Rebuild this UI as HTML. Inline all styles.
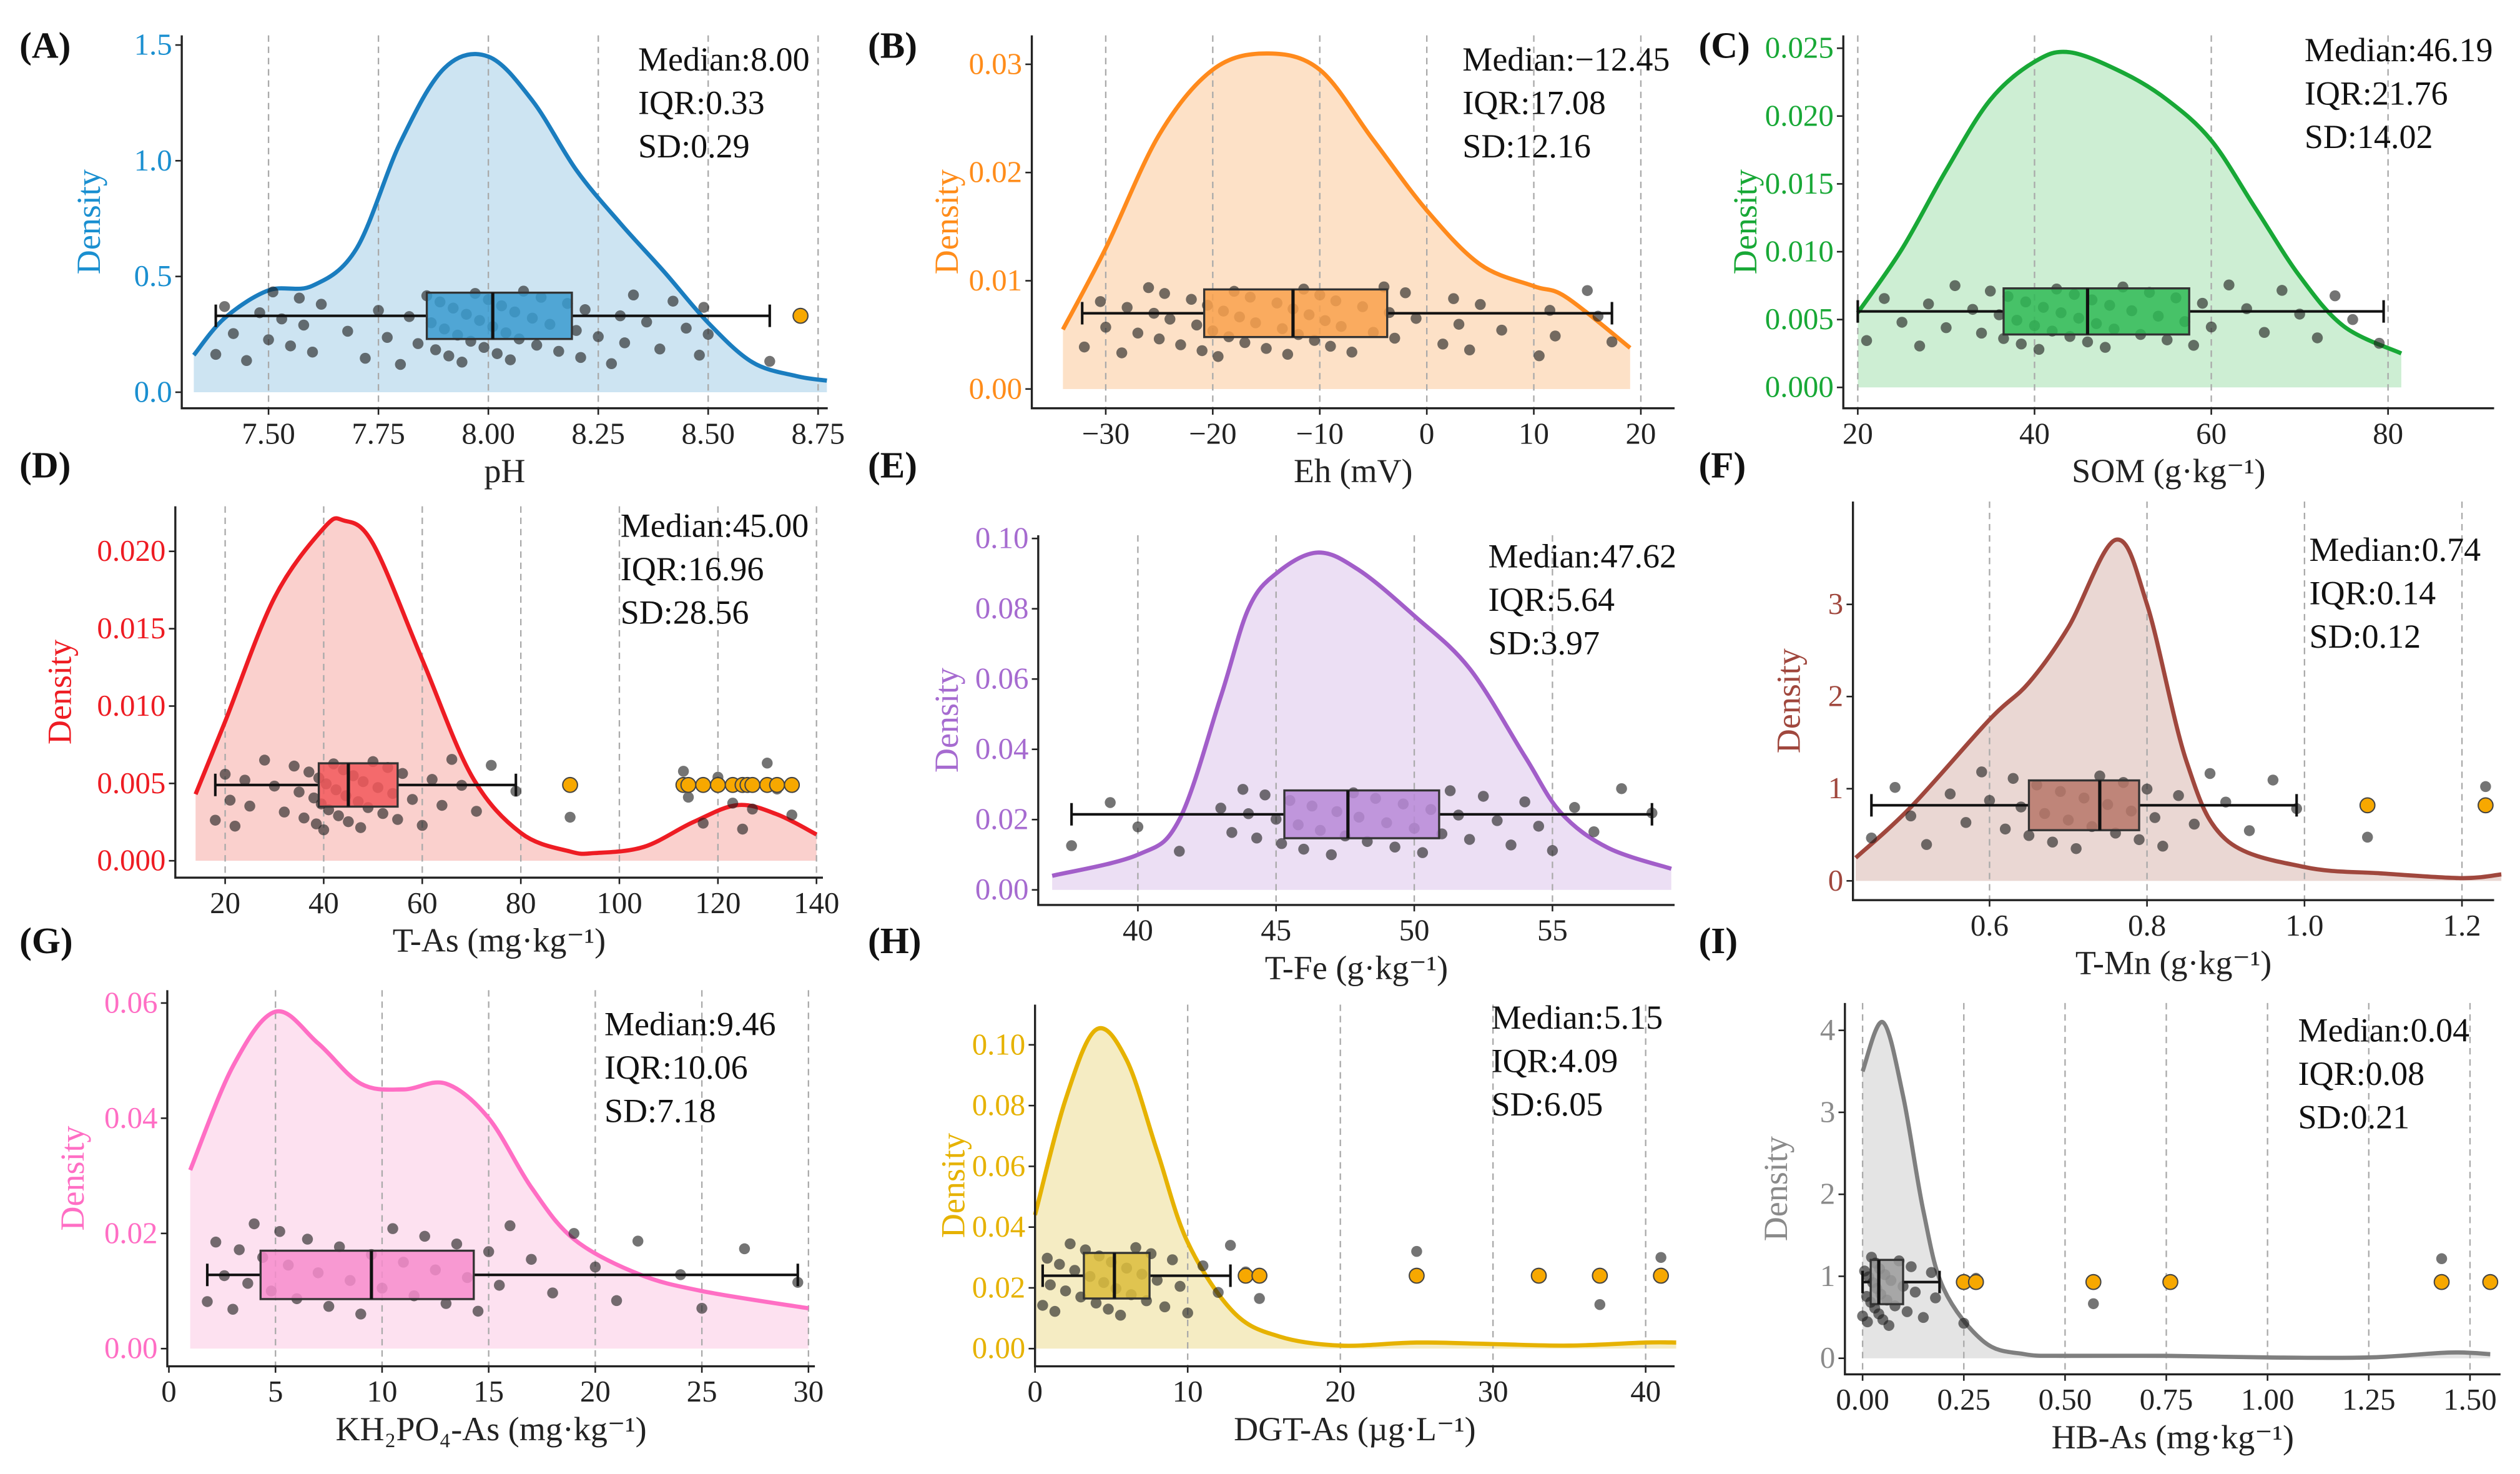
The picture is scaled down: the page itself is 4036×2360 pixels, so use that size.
<!DOCTYPE html>
<html><head><meta charset="utf-8">
<style>
html,body{margin:0;padding:0;background:#fff}
svg{display:block}
</style></head>
<body>
<svg id="fig" width="4036" height="2360" viewBox="0 0 1568 917" font-family="'Liberation Serif', 'Times New Roman', serif" xmlns="http://www.w3.org/2000/svg"></svg>
<script>
// ---------- data arrays ----------
const aCurveX=[7.33,7.40,7.50,7.60,7.70,7.80,7.90,8.00,8.10,8.20,8.30,8.40,8.50,8.60,8.70,8.77];
const aCurveY=[0.16,0.32,0.44,0.46,0.62,1.08,1.40,1.45,1.26,0.96,0.73,0.52,0.30,0.13,0.07,0.05];
const aBox=[7.38,7.86,8.01,8.19,8.64];
const aOut=[8.71];
const aPts=[7.38,7.40,7.42,7.45,7.48,7.50,7.51,7.53,7.55,7.57,7.58,7.60,7.62,7.68,7.72,7.75,7.77,7.80,7.82,7.84,7.86,7.87,7.88,7.89,7.90,7.91,7.92,7.93,7.94,7.95,7.96,7.97,7.98,7.99,8.00,8.01,8.02,8.03,8.04,8.05,8.06,8.07,8.08,8.10,8.11,8.12,8.14,8.16,8.18,8.20,8.21,8.22,8.25,8.28,8.30,8.31,8.33,8.36,8.39,8.42,8.45,8.48,8.49,8.50,8.64,8.71];

const bCurveX=[-34,-30,-25,-20,-15,-10,-5,0,5,10,13,19];
const bCurveY=[0.0055,0.013,0.0235,0.0295,0.031,0.0295,0.023,0.0165,0.0115,0.0095,0.0085,0.0038];
const bBox=[-32.2,-20.8,-12.5,-3.7,17.3];
const bOut=[];
const bPts=[-32,-30.5,-30,-28.5,-28,-27,-26,-25.5,-25,-24.5,-24,-23,-22,-21.5,-21,-20.5,-20,-19.5,-19,-18.5,-18,-17.5,-17,-16.5,-16,-15,-14,-13.5,-13,-12.5,-12,-11.5,-11,-10.5,-10,-9.5,-9,-8.5,-8,-7,-6,-5,-4,-3.5,-3,-2,-1,1.5,2.5,3,4,5,7,10.5,11.5,12,15,16,17.3];

const cCurveX=[20,25,30,35,40,44,50,55,60,65,70,75,81.5];
const cCurveY=[0.0055,0.0102,0.0160,0.0212,0.0240,0.0247,0.0232,0.0212,0.0182,0.0132,0.0082,0.0045,0.0025];
const cBox=[20,36.5,46,57.5,79.5];
const cOut=[];
const cPts=[21,23,25,27,28,30,31,33,34,35,36,36.5,37,38,38.5,39,40,40.5,41,42,42.5,43,44,44.5,45,46,46.5,47,48,48.5,49,50,51,52,53,54,55,56,57,58,59,60,62,64,66,68,70,72,74,76,79];

const dCurveX=[14,20,30,40,44,50,60,70,80,90,95,105,115,124,132,140];
const dCurveY=[0.0043,0.009,0.017,0.0215,0.022,0.0205,0.013,0.0055,0.0018,0.0006,0.0005,0.0009,0.0025,0.0036,0.003,0.0017];
const dBox=[18,39,45,55,79];
const dOut=[90,113,114,117,120,123,125,126,127,130,132,135];
const dPts=[18,20,21,22,24,25,28,30,32,34,35,36,37,38,38.5,39,39.5,40,40.5,41,42,42.5,43,44,44.5,45,46,47,47.5,48,49,50,51,52,53,54,55,56,58,60,62,64,66,68,71,74,79,90,113,114,117,120,123,125,126,127,130,132,135];

const eCurveX=[36.9,40,41.5,43,44,45,46.5,48,50,52,54,55.3,57,59.3];
const eCurveY=[0.004,0.010,0.020,0.055,0.080,0.090,0.096,0.091,0.078,0.063,0.038,0.022,0.012,0.006];
const eBox=[37.6,45.3,47.6,50.9,58.6];
const eOut=[];
const ePts=[37.6,39,40,41.5,43,43.4,43.8,44,44.3,44.6,45,45.2,45.5,45.8,46,46.3,46.6,47,47.2,47.5,47.8,48,48.3,48.6,49,49.3,49.6,50,50.3,50.6,51,51.3,51.6,52,52.5,53,53.5,54,54.5,55,55.8,56.5,57.5,58.6];

const fCurveX=[0.43,0.50,0.60,0.65,0.70,0.76,0.80,0.85,0.90,1.00,1.10,1.20,1.25];
const fCurveY=[0.25,0.80,1.75,2.15,2.75,3.70,3.00,1.30,0.45,0.15,0.08,0.03,0.07];
const fBox=[0.45,0.65,0.74,0.79,0.99];
const fOut=[1.08,1.23];
const fPts=[0.45,0.48,0.50,0.52,0.55,0.57,0.59,0.60,0.62,0.63,0.64,0.65,0.66,0.67,0.68,0.69,0.70,0.71,0.72,0.73,0.74,0.75,0.76,0.77,0.78,0.79,0.80,0.81,0.82,0.84,0.86,0.88,0.90,0.93,0.96,0.99,1.08,1.23];

const gCurveX=[1,3,5,7,9,11,13,15,17,19,22,25,30];
const gCurveY=[0.031,0.049,0.0585,0.053,0.046,0.045,0.046,0.040,0.028,0.019,0.013,0.010,0.007];
const gBox=[1.8,4.3,9.5,14.3,29.5];
const gOut=[];
const gPts=[1.8,2.2,2.6,3,3.3,3.7,4,4.4,4.8,5.2,5.6,6,6.5,7,7.5,8,8.5,9,9.5,10,10.5,11,11.5,12,12.5,13,13.5,14,14.5,15,15.5,16,17,18,19,20,21,22,24,25,27,29.5];

const hCurveX=[0,2,4,6,8,10,13,16,20,25,30,35,40,42];
const hCurveY=[0.044,0.082,0.105,0.095,0.065,0.035,0.012,0.004,0.001,0.002,0.0015,0.001,0.002,0.002];
const hBox=[0.5,3.2,5.2,7.5,12.8];
const hOut=[13.8,14.7,25,33,37,41];
const hPts=[0.5,0.8,1,1.3,1.6,2,2.3,2.6,3,3.3,3.6,4,4.2,4.5,4.8,5,5.3,5.6,6,6.3,6.6,7,7.3,7.6,8,8.5,9,9.5,10,11,12,12.8,13.8,14.7,25,33,37,41];

const iCurveX=[0,0.05,0.10,0.15,0.20,0.30,0.40,0.50,0.75,1.00,1.25,1.45,1.55];
const iCurveY=[3.5,4.1,3.2,1.8,0.85,0.20,0.05,0.03,0.03,0.01,0.01,0.07,0.05];
const iBox=[0.0,0.02,0.04,0.10,0.19];
const iOut=[0.25,0.28,0.57,0.76,1.43,1.55];
const iPts=[0.0,0.005,0.01,0.012,0.015,0.02,0.022,0.025,0.03,0.032,0.035,0.04,0.042,0.045,0.05,0.055,0.06,0.065,0.07,0.08,0.09,0.10,0.11,0.12,0.13,0.15,0.17,0.18,0.25,0.28,0.57,1.43,1.55];

// ticks
const aXT=["7.50","7.75","8.00","8.25","8.50","8.75"], aYT=["0.0","0.5","1.0","1.5"];
const bXT=["\u221230","\u221220","\u221210","0","10","20"], bYT=["0.00","0.01","0.02","0.03"];
const cXT=["20","40","60","80"], cYT=["0.000","0.005","0.010","0.015","0.020","0.025"];
const dXT=["20","40","60","80","100","120","140"], dYT=["0.000","0.005","0.010","0.015","0.020"];
const eXT=["40","45","50","55"], eYT=["0.00","0.02","0.04","0.06","0.08","0.10"];
const fXT=["0.6","0.8","1.0","1.2"], fYT=["0","1","2","3"];
const gXT=["0","5","10","15","20","25","30"], gYT=["0.00","0.02","0.04","0.06"];
const hXT=["0","10","20","30","40"], hYT=["0.00","0.02","0.04","0.06","0.08","0.10"];
const iXT=["0.00","0.25","0.50","0.75","1.00","1.25","1.50"], iYT=["0","1","2","3","4"];

const aStats=["Median:8.00","IQR:0.33","SD:0.29"];
const bStats=["Median:\u221212.45","IQR:17.08","SD:12.16"];
const cStats=["Median:46.19","IQR:21.76","SD:14.02"];
const dStats=["Median:45.00","IQR:16.96","SD:28.56"];
const eStats=["Median:47.62","IQR:5.64","SD:3.97"];
const fStats=["Median:0.74","IQR:0.14","SD:0.12"];
const gStats=["Median:9.46","IQR:10.06","SD:7.18"];
const hStats=["Median:5.15","IQR:4.09","SD:6.05"];
const iStats=["Median:0.04","IQR:0.08","SD:0.21"];

// ---------- layout (pixels) ----------
const panels=[
 {id:"a",lab:"(A)",lx:12,ly:36,L:113,R:515,T:22,B:254,x0:7.5,px0:167,x1:8.75,px1:509,y0:0,py0:244,y1:1.5,py1:28,
  cx:aCurveX,cy:aCurveY,box:aBox,out:aOut,pts:aPts,xt:aXT,yt:aYT,st:aStats,sx:397,sy:44,bc:0.33,bh:0.10,jl:0.12,jh:0.44,
  line:"#1a7dbf",fill:"#cde4f2",boxf:"#3a9bd0",tcol:"#1a8fd0",xl:"pH",ytx:62},
 {id:"b",lab:"(B)",lx:540,ly:36,L:642,R:1042,T:22,B:254,x0:-30,px0:688,x1:20,px1:1021,y0:0,py0:242,y1:0.03,py1:40,
  cx:bCurveX,cy:bCurveY,box:bBox,out:bOut,pts:bPts,xt:bXT,yt:bYT,st:bStats,sx:910,sy:44,bc:0.007,bh:0.0022,jl:0.003,jh:0.0095,
  line:"#ff8a1c",fill:"#fde1c7",boxf:"#f9a14c",tcol:"#ff8c1a",xl:"Eh (mV)",ytx:596},
 {id:"c",lab:"(C)",lx:1057,ly:36,L:1147,R:1552,T:22,B:254,x0:20,px0:1156,x1:80,px1:1486,y0:0,py0:241,y1:0.025,py1:30,
  cx:cCurveX,cy:cCurveY,box:cBox,out:cOut,pts:cPts,xt:cXT,yt:cYT,st:cStats,sx:1434,sy:38,bc:0.0056,bh:0.0017,jl:0.0028,jh:0.0076,
  line:"#18a836",fill:"#cdeed3",boxf:"#2fba55",tcol:"#18a836",xl:"SOM (g\u00b7kg\u207b\u00b9)",ytx:1093},
 {id:"d",lab:"(D)",lx:12,ly:297,L:109,R:512,T:315,B:546,x0:20,px0:140,x1:140,px1:508,y0:0,py0:535.5,y1:0.02,py1:343,
  cx:dCurveX,cy:dCurveY,box:dBox,out:dOut,pts:dPts,xt:dXT,yt:dYT,st:dStats,sx:386,sy:334,bc:0.0049,bh:0.0014,jl:0.002,jh:0.0066,
  line:"#ee1c23",fill:"#fad0cd",boxf:"#f2585b",tcol:"#ee1c23",xl:"T-As (mg\u00b7kg\u207b\u00b9)",ytx:44},
 {id:"e",lab:"(E)",lx:540,ly:297,L:646,R:1042,T:333,B:563,x0:40,px0:708,x1:55,px1:966,y0:0,py0:553.6,y1:0.1,py1:335,
  cx:eCurveX,cy:eCurveY,box:eBox,out:eOut,pts:ePts,xt:eXT,yt:eYT,st:eStats,sx:926,sy:353,bc:0.0215,bh:0.0068,jl:0.01,jh:0.029,
  line:"#a25ec9",fill:"#ecdff4",boxf:"#b98ad7",tcol:"#a66bd0",xl:"T-Fe (g\u00b7kg\u207b\u00b9)",ytx:596},
 {id:"f",lab:"(F)",lx:1057,ly:297,L:1153,R:1552,T:312,B:560,x0:0.6,px0:1238,x1:1.2,px1:1532,y0:0,py0:548,y1:3,py1:376,
  cx:fCurveX,cy:fCurveY,box:fBox,out:fOut,pts:fPts,xt:fXT,yt:fYT,st:fStats,sx:1437,sy:349,bc:0.82,bh:0.27,jl:0.35,jh:1.2,
  line:"#a0473d",fill:"#ead7d3",boxf:"#b77769",tcol:"#a0473d",xl:"T-Mn (g\u00b7kg\u207b\u00b9)",ytx:1120},
 {id:"g",lab:"(G)",lx:12,ly:593,L:104,R:507,T:616,B:850,x0:0,px0:105,x1:30,px1:503,y0:0,py0:839,y1:0.06,py1:624,
  cx:gCurveX,cy:gCurveY,box:gBox,out:gOut,pts:gPts,xt:gXT,yt:gYT,st:gStats,sx:376,sy:644,bc:0.0128,bh:0.0042,jl:0.006,jh:0.022,
  line:"#ff6ec4",fill:"#fde1f0",boxf:"#f78ccc",tcol:"#ff6ec4",xl:"KH\u2082PO\u2084-As (mg\u00b7kg\u207b\u00b9)",ytx:52},
 {id:"h",lab:"(H)",lx:540,ly:593,L:644,R:1042,T:625,B:850,x0:0,px0:644,x1:40,px1:1024,y0:0,py0:839,y1:0.1,py1:650,
  cx:hCurveX,cy:hCurveY,box:hBox,out:hOut,pts:hPts,xt:hXT,yt:hYT,st:hStats,sx:928,sy:640,bc:0.024,bh:0.0075,jl:0.011,jh:0.035,
  line:"#e6b200",fill:"#f5ecc3",boxf:"#dcbd3c",tcol:"#e6b200",xl:"DGT-As (\u00b5g\u00b7L\u207b\u00b9)",ytx:600},
 {id:"i",lab:"(I)",lx:1057,ly:593,L:1148,R:1556,T:624,B:855,x0:0,px0:1159,x1:1.5,px1:1537,y0:0,py0:845,y1:4,py1:641,
  cx:iCurveX,cy:iCurveY,box:iBox,out:iOut,pts:iPts,xt:iXT,yt:iYT,st:iStats,sx:1430,sy:648,bc:0.93,bh:0.27,jl:0.4,jh:1.25,
  line:"#7f7f7f",fill:"#e4e4e4",boxf:"#9c9c9c",tcol:"#8a8a8a",xl:"HB-As (mg\u00b7kg\u207b\u00b9)",ytx:1112}
];

const NS="http://www.w3.org/2000/svg";
const svg=document.getElementById('fig');
function mk(tag,attrs,parent){const e=document.createElementNS(NS,tag);for(const k in attrs)e.setAttribute(k,attrs[k]);(parent||svg).appendChild(e);return e;}
function smooth(p){let d="M"+p[0][0]+","+p[0][1];for(let i=0;i<p.length-1;i++){const p0=p[i-1]||p[i],p1=p[i],p2=p[i+1],p3=p[i+2]||p2;
 const c1x=p1[0]+(p2[0]-p0[0])/6,c1y=p1[1]+(p2[1]-p0[1])/6,c2x=p2[0]-(p3[0]-p1[0])/6,c2y=p2[1]-(p3[1]-p1[1])/6;
 d+=" C"+c1x+","+c1y+" "+c2x+","+c2y+" "+p2[0]+","+p2[1];}return d;}

panels.forEach(P=>{
 const xs=v=>P.px0+(v-P.x0)*(P.px1-P.px0)/(P.x1-P.x0);
 const ys=v=>P.py0+(v-P.y0)*(P.py1-P.py0)/(P.y1-P.y0);
 const g=mk('g',{});
 
 
 const pts=P.cx.map((x,i)=>[xs(x),ys(Math.max(0,P.cy[i]))]);
 const curve=smooth(pts);
 const area=mk('path',{d:curve+" L"+pts[pts.length-1][0]+","+ys(0)+" L"+pts[0][0]+","+ys(0)+" Z",fill:P.fill,stroke:"none"},g);
 
 
 const step=(P.x1-P.x0)/(P.xt.length-1);
 P.xt.forEach((t,i)=>{const px=xs(P.x0+i*step); if(px>P.L+3){const gl=mk('line',{x1:px,x2:px,y1:P.T,y2:P.B,stroke:"#aaa","stroke-width":0.9,"stroke-dasharray":"4,3"},g);
  
  }});
 const cl=mk('path',{d:curve,fill:"none",stroke:P.line,"stroke-width":2.6},g);
 
 
 P.pts.forEach((v,i)=>{const t=((i*7919+13)%97)/96; const c=mk('circle',{cx:xs(v),cy:ys(P.jl+t*(P.jh-P.jl)),r:3.4,fill:"rgba(30,30,30,0.62)"},g);
  
  });
 const yc=ys(P.bc), yt=ys(P.bc+P.bh), yb=ys(P.bc-P.bh);
 const wl=mk('path',{d:`M${xs(P.box[0])},${yc} H${xs(P.box[1])} M${xs(P.box[3])},${yc} H${xs(P.box[4])} M${xs(P.box[0])},${yc-7} V${yc+7} M${xs(P.box[4])},${yc-7} V${yc+7}`,stroke:"#111","stroke-width":1.6,fill:"none"},g);
 
 
 const br=mk('rect',{x:xs(P.box[1]),y:yt,width:xs(P.box[3])-xs(P.box[1]),height:yb-yt,fill:P.boxf,"fill-opacity":0.85,stroke:"#333","stroke-width":1.3},g);
 
 
 const md=mk('line',{x1:xs(P.box[2]),x2:xs(P.box[2]),y1:yt,y2:yb,stroke:"#111","stroke-width":2},g);
 
 
 P.out.forEach(v=>{const o=mk('circle',{cx:xs(v),cy:yc,r:4.6,fill:"#f7a800",stroke:"#444","stroke-width":0.8},g);
  
  });
 const ax=mk('path',{d:`M${P.L},${P.T} V${P.B} H${P.R}`,stroke:"#222","stroke-width":1.3,fill:"none"},g);
 
 
 P.xt.forEach((t,i)=>{const px=xs(P.x0+i*step);
  mk('line',{x1:px,x2:px,y1:P.B,y2:P.B+4,stroke:"#222","stroke-width":1},g);
  const tx=mk('text',{x:px,y:P.B+22,"text-anchor":"middle","font-size":19,fill:"#222"},g);tx.textContent=t;
  
  });
 const ystep=(P.y1-P.y0)/(P.yt.length-1);
 P.yt.forEach((t,i)=>{const py=ys(P.y0+i*ystep);
  mk('line',{x1:P.L-4,x2:P.L,y1:py,y2:py,stroke:"#222","stroke-width":1},g);
  const tx=mk('text',{x:P.L-6,y:py+6,"text-anchor":"end","font-size":19,fill:P.tcol},g);tx.textContent=t;
  
  });
 const xl=mk('text',{x:(P.L+P.R)/2,y:P.B+46,"text-anchor":"middle","font-size":21,fill:"#222"},g);xl.textContent=P.xl;
 
 
 const ymid=(P.T+P.B)/2;
 const yl=mk('text',{x:P.ytx,y:ymid,"text-anchor":"middle","font-size":21,fill:P.tcol,transform:`rotate(-90 ${P.ytx} ${ymid})`},g);yl.textContent="Density";
 
 
 P.st.forEach((s,i)=>{const st=mk('text',{x:P.sx,y:P.sy+i*27,"font-size":21,fill:"#111"},g);st.textContent=s;
  
  });
 const lb=mk('text',{x:P.lx,y:P.ly,"font-size":23,"font-weight":"bold",fill:"#111"},g);lb.textContent=P.lab;
 
 
});
</script>
</body></html>
